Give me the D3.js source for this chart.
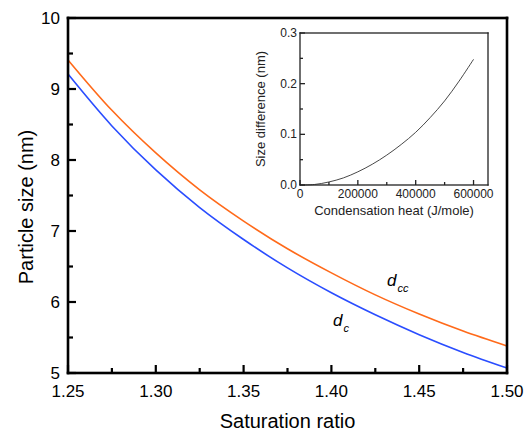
<!DOCTYPE html>
<html><head><meta charset="utf-8">
<script src="https://cdn.jsdelivr.net/npm/d3@7/dist/d3.min.js"></script>
<style>body{margin:0;background:#fff}svg{display:block}text{font-family:"Liberation Sans",Arial,sans-serif}</style>
</head><body><svg id="c" width="524" height="435"></svg>
<script>
// Main chart data
const saturation = [1.25,1.275,1.30,1.325,1.35,1.375,1.40,1.425,1.45,1.475,1.50];
const dc  = [9.21,8.48,7.86,7.33,6.88,6.48,6.13,5.82,5.54,5.29,5.07];
const dcc = [9.41,8.70,8.10,7.58,7.14,6.75,6.41,6.10,5.83,5.59,5.38];
const xTicks = [1.25,1.30,1.35,1.40,1.45,1.50];
const xMinorTicks = [1.275,1.325,1.375,1.425,1.475];
const yTicks = [5,6,7,8,9,10];
const yMinorTicks = [5.5,6.5,7.5,8.5,9.5];
// Inset data
const heat = [0,50000,100000,150000,200000,250000,300000,350000,400000,450000,500000,550000,600000];
const sizeDiff = [0,0.001,0.006,0.014,0.026,0.041,0.059,0.080,0.104,0.133,0.166,0.205,0.248];
const insetXTicks = [0,200000,400000,600000];
const insetXMinor = [100000,300000,500000];
const insetYTicks = [0.0,0.1,0.2,0.3];
const insetYMinor = [0.05,0.15,0.25];

const svg = d3.select("#c");
const L=68,T=18,R=507,B=373;
const x = d3.scaleLinear().domain([1.25,1.50]).range([L,R]);
const y = d3.scaleLinear().domain([5,10]).range([B,T]);

function ticksX(sc, vals, yb, len, w, col){
  svg.append("g").selectAll("rect").data(vals).join("rect")
   .attr("x",d=>sc(d)-w/2).attr("y",yb-len).attr("width",w).attr("height",len).attr("fill",col);
}
function ticksY(sc, vals, xl, len, w, col){
  svg.append("g").selectAll("rect").data(vals).join("rect")
   .attr("y",d=>sc(d)-w/2).attr("x",xl).attr("height",w).attr("width",len).attr("fill",col);
}
function frame(x0,y0,x1,y1,w,col){
  const g = svg.append("g");
  g.append("rect").attr("x",x0-w/2).attr("y",y0-w/2).attr("width",x1-x0+w).attr("height",w).attr("fill",col);
  g.append("rect").attr("x",x0-w/2).attr("y",y1-w/2).attr("width",x1-x0+w).attr("height",w).attr("fill",col);
  g.append("rect").attr("x",x0-w/2).attr("y",y0-w/2).attr("width",w).attr("height",y1-y0+w).attr("fill",col);
  g.append("rect").attr("x",x1-w/2).attr("y",y0-w/2).attr("width",w).attr("height",y1-y0+w).attr("fill",col);
}

const line = d3.line().x((d,i)=>x(saturation[i])).y(d=>y(d)).curve(d3.curveCatmullRom);
svg.append("path").attr("d",line(dcc)).attr("fill","none").attr("stroke","#ff6a1a").attr("stroke-width",1.6);
svg.append("path").attr("d",line(dc)).attr("fill","none").attr("stroke","#2a4dff").attr("stroke-width",1.6);

frame(L,T,R,B,2.6,"#000");
ticksX(x,xTicks,B,8,2.2,"#000"); ticksX(x,xMinorTicks,B,5,2.2,"#000");
ticksY(y,yTicks,L,8,2.2,"#000"); ticksY(y,yMinorTicks,L,5,2.2,"#000");
svg.append("g").selectAll("text").data(xTicks).join("text")
 .attr("x",d=>x(d)).attr("y",B+24).attr("text-anchor","middle").attr("font-size",17).text(d3.format(".2f"));
svg.append("g").selectAll("text").data(yTicks).join("text")
 .attr("x",L-8).attr("y",d=>y(d)+6).attr("text-anchor","end").attr("font-size",17).text(d3.format("d"));

// labels
const lab1 = svg.append("text").attr("x",387).attr("y",286).attr("font-size",17).attr("font-style","italic");
lab1.append("tspan").text("d");
lab1.append("tspan").attr("font-size",11).attr("dy",6).attr("dx",1).text("cc");
const lab2 = svg.append("text").attr("x",333).attr("y",326).attr("font-size",17).attr("font-style","italic");
lab2.append("tspan").text("d");
lab2.append("tspan").attr("font-size",11).attr("dy",6).attr("dx",1).text("c");

svg.append("text").attr("x",(L+R)/2).attr("y",428).attr("text-anchor","middle").attr("font-size",20).text("Saturation ratio");
svg.append("text").attr("transform","translate(33,207) rotate(-90)").attr("text-anchor","middle").attr("font-size",20).text("Particle size (nm)");

// Inset
const iL=300,iT=33,iR=488,iB=185;
const ix = d3.scaleLinear().domain([0,650000]).range([iL,iR]);
const iy = d3.scaleLinear().domain([0,0.3]).range([iB,iT]);
const iline = d3.line().x((d,i)=>ix(heat[i])).y(d=>iy(d)).curve(d3.curveCatmullRom);
svg.append("path").attr("d",iline(sizeDiff)).attr("fill","none").attr("stroke","#333").attr("stroke-width",0.9);
frame(iL,iT,iR,iB,1.3,"#222");
ticksX(ix,insetXTicks,iB,5,1.3,"#222"); ticksX(ix,insetXMinor,iB,3,1.3,"#222");
ticksY(iy,insetYTicks,iL,5,1.3,"#222"); ticksY(iy,insetYMinor,iL,3,1.3,"#222");
svg.append("g").selectAll("text").data(insetXTicks).join("text")
 .attr("x",d=>ix(d)).attr("y",iB+13).attr("text-anchor","middle").attr("font-size",12).attr("fill","#222").text(d3.format("d"));
svg.append("g").selectAll("text").data(insetYTicks).join("text")
 .attr("x",iL-3).attr("y",d=>iy(d)+4).attr("text-anchor","end").attr("font-size",12).attr("fill","#222").text(d3.format(".1f"));
svg.append("text").attr("x",(iL+iR)/2).attr("y",215).attr("text-anchor","middle").attr("font-size",13).attr("fill","#222").text("Condensation heat (J/mole)");
svg.append("text").attr("transform",`translate(265,${(iT+iB)/2}) rotate(-90)`).attr("text-anchor","middle").attr("font-size",13).attr("fill","#222").text("Size difference (nm)");
</script></body></html>
